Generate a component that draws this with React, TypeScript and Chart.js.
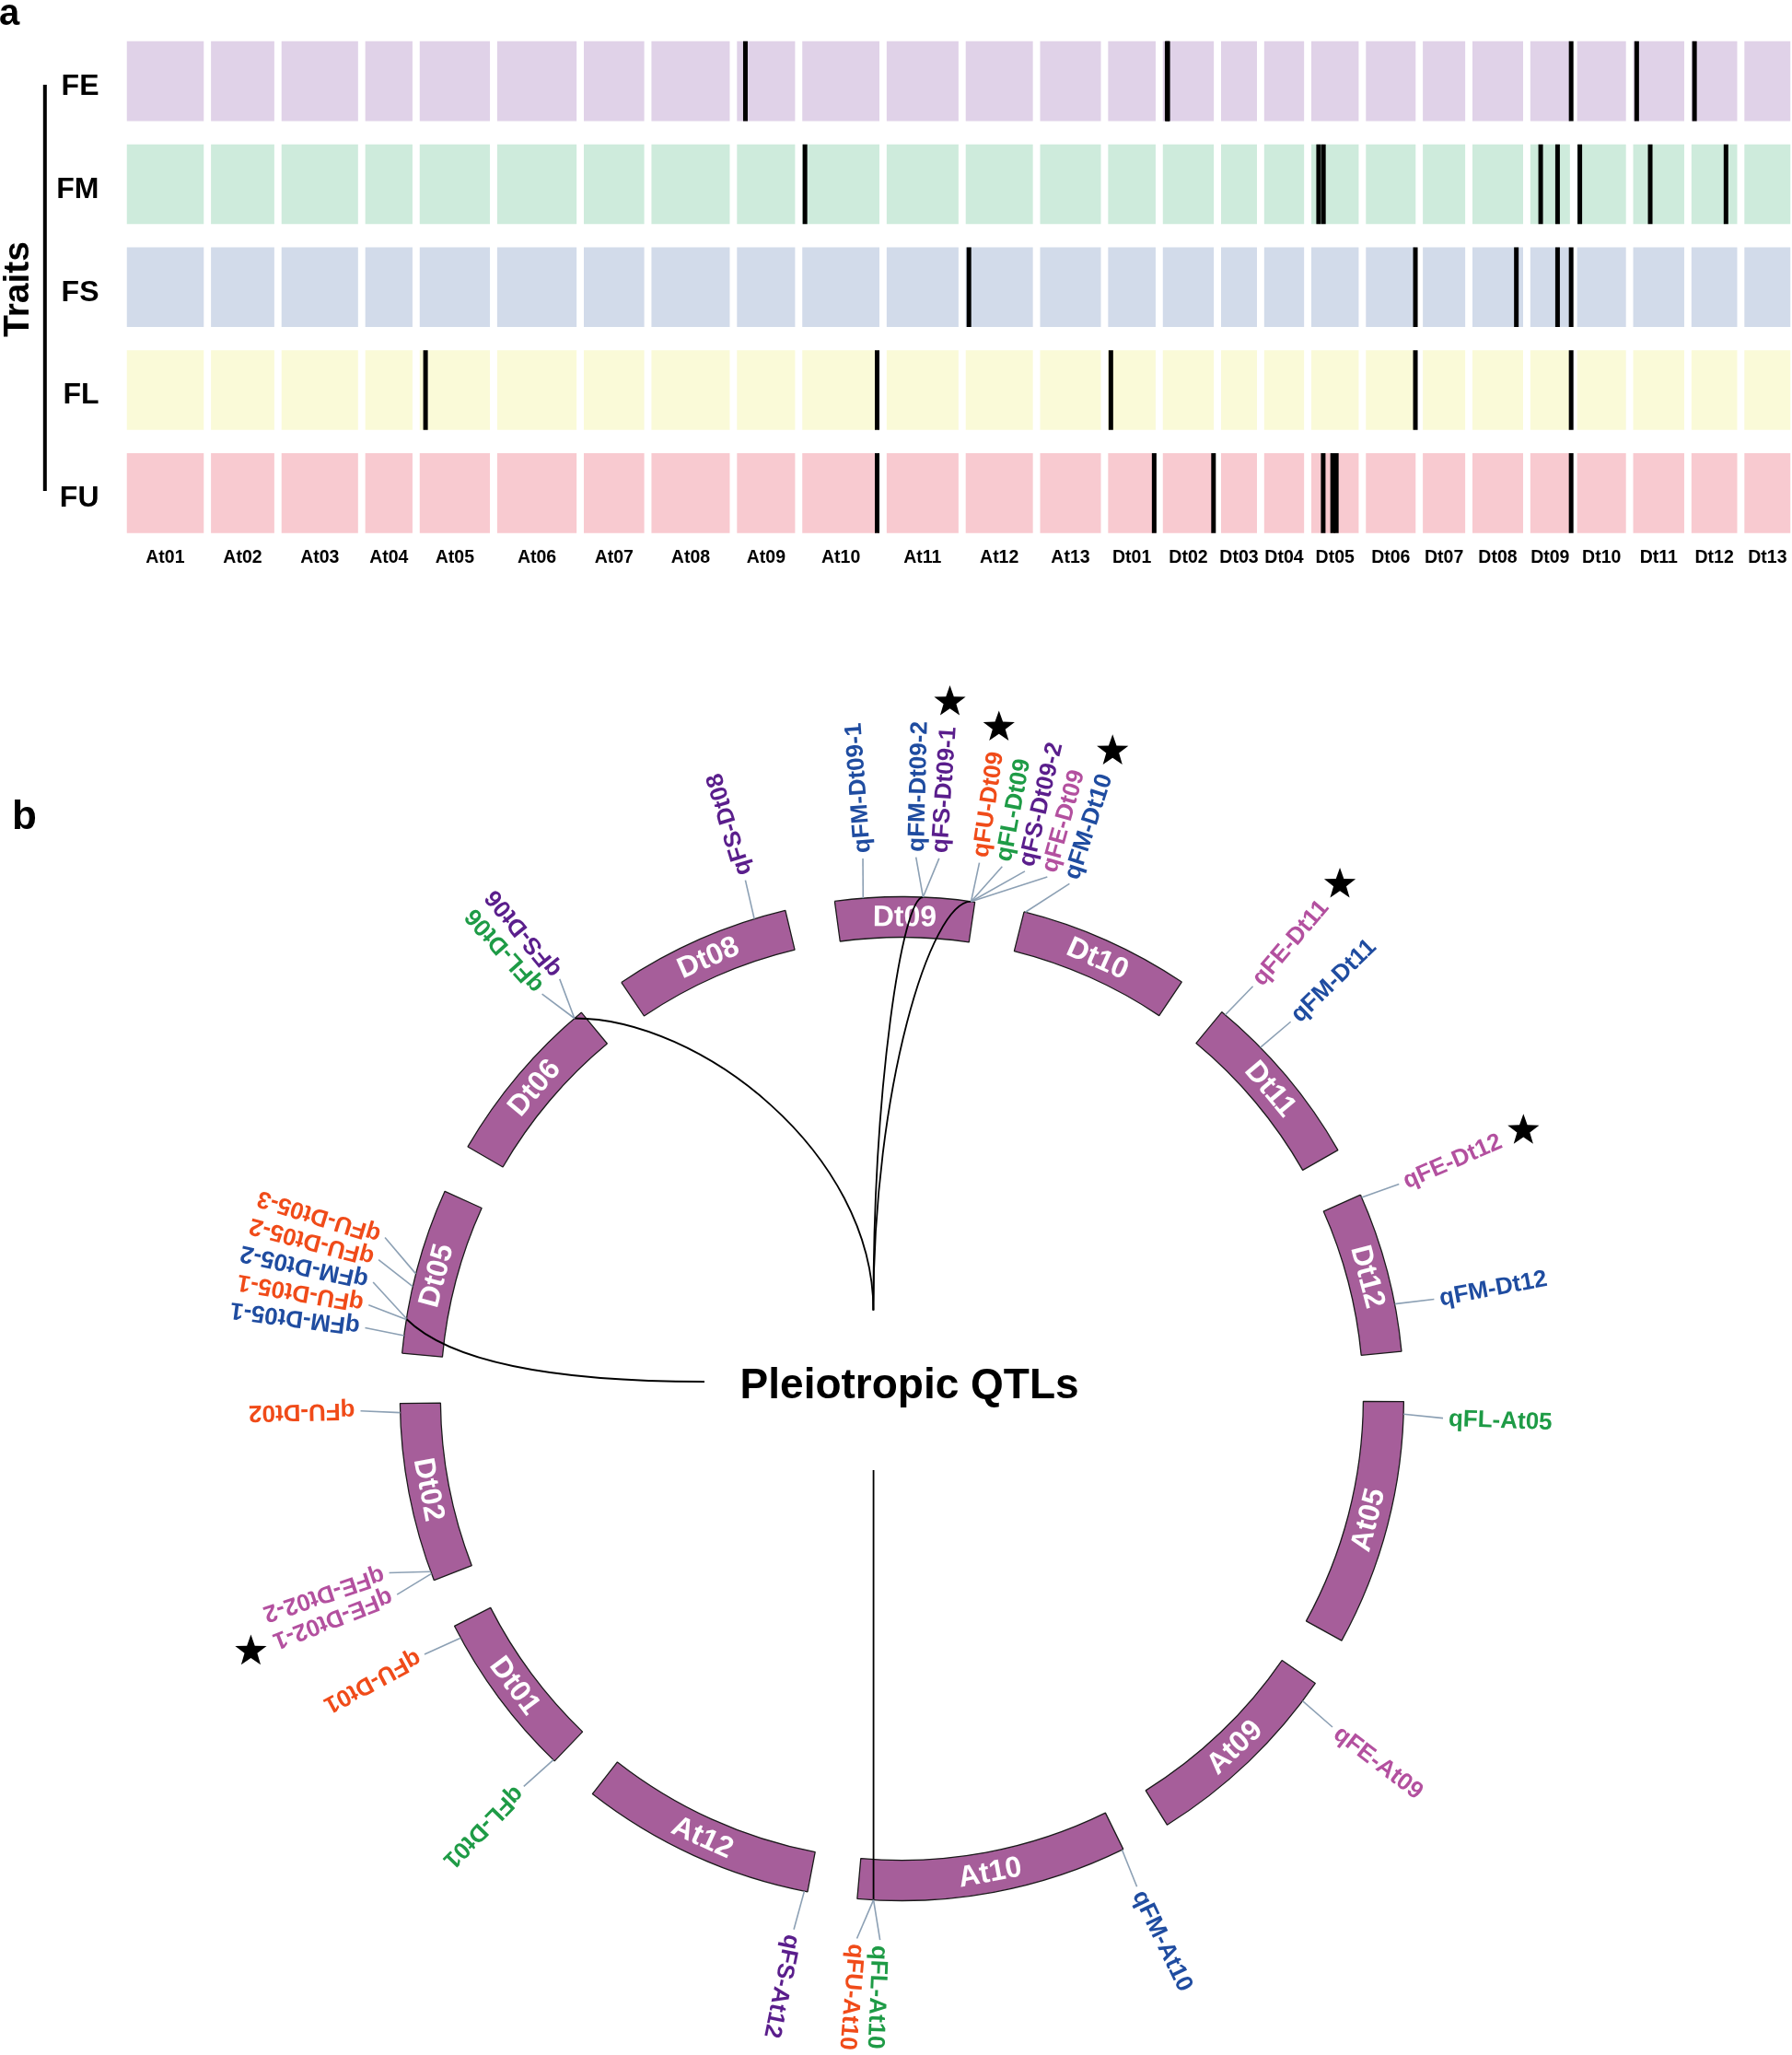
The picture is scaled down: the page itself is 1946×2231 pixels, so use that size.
import React, { useEffect, useRef } from 'react';
import { Chart, registerables } from 'chart.js';

Chart.register(...registerables);

const FONT = "'Liberation Sans', Arial, Helvetica, sans-serif";

// ---------------- data ----------------
const CHROMS = ['At01','At02','At03','At04','At05','At06','At07','At08','At09','At10','At11','At12','At13','Dt01','Dt02','Dt03','Dt04','Dt05','Dt06','Dt07','Dt08','Dt09','Dt10','Dt11','Dt12','Dt13'];
// chromosome length (Mb)
const CHROM_LEN = [100.5, 82.5, 99.7, 61.5, 91.5, 103.5, 78.7, 102.0, 75.7, 100.5, 93.6, 87.5, 79.2, 61.9, 66.4, 46.8, 52.0, 61.7, 64.8, 55.2, 66.0, 51.6, 63.6, 66.5, 59.6, 60.2];
const TRAITS = ['FE', 'FM', 'FS', 'FL', 'FU'];

const QTL_NAME = ['qFM-Dt09-1','qFM-Dt09-2','qFS-Dt09-1','qFU-Dt09','qFL-Dt09','qFS-Dt09-2','qFE-Dt09','qFM-Dt10','qFE-Dt11','qFM-Dt11','qFE-Dt12','qFM-Dt12','qFL-At05','qFE-At09','qFM-At10','qFL-At10','qFU-At10','qFS-At12','qFL-Dt01','qFU-Dt01','qFE-Dt02-1','qFE-Dt02-2','qFU-Dt02','qFM-Dt05-1','qFU-Dt05-1','qFM-Dt05-2','qFU-Dt05-2','qFU-Dt05-3','qFL-Dt06','qFS-Dt06','qFS-Dt08'];
const QTL_TRAIT = ['FM','FM','FS','FU','FL','FS','FE','FM','FE','FM','FE','FM','FL','FE','FM','FL','FU','FS','FL','FU','FE','FE','FU','FM','FU','FM','FU','FU','FL','FS','FS'];
const QTL_CHROM = ['Dt09','Dt09','Dt09','Dt09','Dt09','Dt09','Dt09','Dt10','Dt11','Dt11','Dt12','Dt12','At05','At09','At10','At10','At10','At12','Dt01','Dt01','Dt02','Dt02','Dt02','Dt05','Dt05','Dt05','Dt05','Dt05','Dt06','Dt06','Dt08'];
// QTL position on chromosome (Mb)
const QTL_POS = [10.5, 32.5, 32.5, 50.2, 50.2, 50.2, 50.2, 0.5, 1.6, 19.2, 1.0, 42.0, 4.6, 8.0, 0.5, 94.5, 94.5, 1.2, 0.6, 57.0, 2.6, 3.4, 63.0, 6.5, 12.5, 12.8, 24.8, 29.6, 61.5, 61.5, 54.2];
const QTL_STAR = [false, false, true, true, false, false, false, true, true, false, true, false, false, false, false, false, false, false, false, false, true, false, false, false, false, false, false, false, false, false, false];

const CIRCOS_CHROMS = ['Dt09','Dt10','Dt11','Dt12','At05','At09','At10','At12','Dt01','Dt02','Dt05','Dt06','Dt08'];

// ---------------- styles / layout ----------------
const TRAIT_FILL = ['#E0D2E8', '#CEEBDC', '#D2DBEA', '#FAFAD8', '#F8CAD0'];
const TRAIT_TEXT = ['#B3509F', '#1F4CA0', '#5A1E8C', '#1E9B46', '#F04B19'];
const ARC_COLOR = '#A65E9A';
const GAP_A = 9.4;   // gap between chromosomes in panel a (Mb units)
const LINE_W = 6.0;  // width of a QTL mark (Mb units)
const GAP_B = 18.4;  // gap between circos segments (Mb units)
const D2R = Math.PI / 180;

const startsA: number[] = [];
let accA = 0;
CHROM_LEN.forEach((l, i) => {
  startsA.push(accA);
  accA += l + (i < CHROM_LEN.length - 1 ? GAP_A : 0);
});
const TOTAL_A = accA;
const CENTERS_A = startsA.map((s, i) => s + CHROM_LEN[i] / 2);

const panelAPlugin = {
  id: 'panelADecor',
  afterDraw(chart: any) {
    const ctx = chart.ctx as CanvasRenderingContext2D;
    ctx.save();
    ctx.fillStyle = '#000';
    ctx.font = `bold 40px ${FONT}`;
    ctx.textBaseline = 'alphabetic';
    ctx.textAlign = 'left';
    ctx.fillText('a', -1, 27);
    ctx.fillRect(46.8, 92, 4, 441);
    ctx.translate(31, 314);
    ctx.rotate(-Math.PI / 2);
    ctx.textAlign = 'center';
    ctx.font = `bold 39px ${FONT}`;
    ctx.fillText('Traits', 0, 0);
    ctx.restore();
  },
};

function drawStar(ctx: CanvasRenderingContext2D, x: number, y: number, R: number, r: number) {
  ctx.beginPath();
  for (let i = 0; i < 10; i++) {
    const rad = i % 2 === 0 ? R : r;
    const a = -Math.PI / 2 + (i * Math.PI) / 5;
    const px = x + rad * Math.cos(a);
    const py = y + rad * Math.sin(a);
    if (i === 0) ctx.moveTo(px, py); else ctx.lineTo(px, py);
  }
  ctx.closePath();
  ctx.fill();
}

const circosPlugin = {
  id: 'circosDecor',
  afterDatasetsDraw(chart: any) {
    const ctx = chart.ctx as CanvasRenderingContext2D;
    const arcs = chart.getDatasetMeta(0).data as any[];
    const cx = arcs[0].x;
    const cy = arcs[0].y;
    const rOut = arcs[0].outerRadius;
    const rIn = arcs[0].innerRadius;
    const chromArc = (c: string) => arcs[2 * CIRCOS_CHROMS.indexOf(c)];
    const posAngle = (c: string, p: number) => {
      const el = chromArc(c);
      const len = CHROM_LEN[CHROMS.indexOf(c)];
      return el.startAngle + (p / len) * (el.endAngle - el.startAngle);
    };
    const pt = (r: number, a: number) => [cx + r * Math.cos(a), cy + r * Math.sin(a)];
    const clockDeg = (a: number) => {
      let th = a / D2R + 90;
      th = ((th % 360) + 360) % 360;
      return th;
    };

    ctx.save();

    // chromosome names on the arcs
    CIRCOS_CHROMS.forEach((c) => {
      const el = chromArc(c);
      const a = (el.startAngle + el.endAngle) / 2;
      const th = clockDeg(a);
      let rot = th;
      if (th > 90 && th < 270) rot = th - 180;
      else if (th >= 270) rot = th - 360;
      const [x, y] = pt((rOut + rIn) / 2, a);
      ctx.save();
      ctx.translate(x, y);
      ctx.rotate(rot * D2R);
      ctx.fillStyle = '#fff';
      ctx.font = `bold 32px ${FONT}`;
      ctx.textAlign = 'center';
      ctx.textBaseline = 'middle';
      ctx.fillText(c, 0, 1);
      ctx.restore();
    });

    // pleiotropic links (same locus shared by several traits)
    const links: { c: string; pos: number }[] = [];
    CIRCOS_CHROMS.forEach((c) => {
      const idx = QTL_NAME.map((_, k) => k).filter((k) => QTL_CHROM[k] === c).sort((a, b) => QTL_POS[a] - QTL_POS[b]);
      let grp: number[] = [];
      const flush = () => {
        const traits = new Set(grp.map((k) => QTL_TRAIT[k]));
        if (grp.length > 1 && traits.size > 1) {
          links.push({ c, pos: grp.reduce((s, k) => s + QTL_POS[k], 0) / grp.length });
        }
      };
      idx.forEach((k) => {
        if (grp.length && QTL_POS[k] - QTL_POS[grp[grp.length - 1]] > 1) { flush(); grp = []; }
        grp.push(k);
      });
      if (grp.length) flush();
    });
    ctx.strokeStyle = '#000';
    ctx.lineWidth = 1.8;
    links.forEach((l) => {
      const a = posAngle(l.c, l.pos);
      const th = clockDeg(a);
      const [sx, sy] = pt(rOut, a);
      ctx.beginPath();
      ctx.moveTo(sx, sy);
      if (th >= 150 && th <= 210) {
        ctx.lineTo(sx, cy + 77.5);
      } else if (th >= 240 && th <= 300) {
        const ex = cx - 214.4, ey = cy - 18.5;
        const dx = ex - sx, dy = ey - sy;
        ctx.bezierCurveTo(sx + 0.15 * dx, sy + 0.7 * dy, ex - 0.5 * dx, ey, ex, ey);
      } else {
        const ex = cx - 31, ey = cy - 96;
        const dx = ex - sx, dy = ey - sy;
        ctx.bezierCurveTo(sx + 0.42 * dx, sy, ex, ey - 0.54 * dy, ex, ey);
      }
      ctx.stroke();
    });

    // QTL labels around the circle
    const items = QTL_NAME.map((_, k) => ({ k, ang: 0, lab: 0 })).filter((it) => CIRCOS_CHROMS.includes(QTL_CHROM[it.k]));
    items.forEach((it) => {
      let th = clockDeg(posAngle(QTL_CHROM[it.k], QTL_POS[it.k]));
      if (th >= 300) th -= 360;
      it.ang = th;
    });
    const sorted = [...items].sort((a, b) => a.ang - b.ang);
    const SEP = 2.45;
    const groups: (typeof items)[] = [];
    sorted.forEach((it) => {
      const g = groups[groups.length - 1];
      if (g && it.ang < g[g.length - 1].lab + SEP) {
        it.lab = g[g.length - 1].lab + SEP;
        g.push(it);
      } else {
        it.lab = it.ang;
        groups.push([it]);
      }
    });
    groups.forEach((g) => {
      if (g.length > 1 && g[g.length - 1].ang - g[0].ang < 0.6) {
        const mean = g.reduce((s, it) => s + it.ang, 0) / g.length;
        g.forEach((it, i) => { it.lab = mean + (i - (g.length - 1) / 2) * SEP; });
      }
    });

    const R_CONN = rOut + 43;
    const R_LAB = rOut + 49;
    ctx.font = `bold 26px ${FONT}`;
    sorted.forEach((it) => {
      const a = posAngle(QTL_CHROM[it.k], QTL_POS[it.k]);
      const la = (it.lab + 0.3 - 90) * D2R;
      const [x0, y0] = pt(rOut, a);
      const [x1, y1] = pt(R_CONN, la);
      ctx.strokeStyle = '#8CA0B4';
      ctx.lineWidth = 1.6;
      ctx.beginPath();
      ctx.moveTo(x0, y0);
      ctx.lineTo(x1, y1);
      ctx.stroke();
      const [tx, ty] = pt(R_LAB, la);
      ctx.save();
      ctx.translate(tx, ty);
      ctx.rotate(la);
      ctx.fillStyle = TRAIT_TEXT[TRAITS.indexOf(QTL_TRAIT[it.k])];
      ctx.textAlign = 'left';
      ctx.textBaseline = 'middle';
      ctx.fillText(QTL_NAME[it.k], 0, 1);
      ctx.restore();
      if (QTL_STAR[it.k]) {
        const w = ctx.measureText(QTL_NAME[it.k]).width;
        const [sx, sy] = pt(R_LAB + w + 27, la);
        ctx.fillStyle = '#000';
        drawStar(ctx, sx, sy, 18, 7.3);
      }
    });

    // center title
    ctx.fillStyle = '#000';
    ctx.font = `bold 46px ${FONT}`;
    ctx.textAlign = 'left';
    ctx.textBaseline = 'alphabetic';
    ctx.fillText('Pleiotropic QTLs', cx - 175.8, cy - 0.2);

    // panel letter
    ctx.font = `bold 44px ${FONT}`;
    ctx.fillText('b', 13, 260);
    ctx.restore();
  },
};

export default function App() {
  const refA = useRef<HTMLCanvasElement>(null);
  const refB = useRef<HTMLCanvasElement>(null);

  useEffect(() => {
    const chromSets = CHROMS.map((c, i) => ({
      label: c,
      data: TRAITS.map(() => [startsA[i], startsA[i] + CHROM_LEN[i]]),
      backgroundColor: TRAIT_FILL,
      borderWidth: 0,
      grouped: false,
      barPercentage: 0.7755,
      categoryPercentage: 1,
      order: 1,
    }));
    const qtlSets = QTL_NAME.map((n, k) => {
      const s = startsA[CHROMS.indexOf(QTL_CHROM[k])] + QTL_POS[k];
      return {
        label: n,
        data: TRAITS.map((t) => (t === QTL_TRAIT[k] ? [s, s + LINE_W] : null)),
        backgroundColor: '#000',
        borderWidth: 0,
        grouped: false,
        barPercentage: 0.7755,
        categoryPercentage: 1,
        order: 0,
      };
    });

    const chartA = new Chart(refA.current as HTMLCanvasElement, {
      type: 'bar',
      data: { labels: TRAITS, datasets: [...chromSets, ...qtlSets] as any },
      options: {
        indexAxis: 'y',
        responsive: false,
        animation: false,
        layout: { padding: { left: 0, right: 1.5, top: 32.3, bottom: 0 } },
        plugins: { legend: { display: false }, tooltip: { enabled: false } },
        scales: {
          x: {
            type: 'linear',
            min: 0,
            max: TOTAL_A,
            position: 'bottom',
            grid: { display: false, drawTicks: false },
            border: { display: false },
            afterBuildTicks: (s: any) => { s.ticks = CENTERS_A.map((v) => ({ value: v })); },
            afterFit: (s: any) => { s.height = 48.8; s.paddingLeft = 0; s.paddingRight = 0; },
            ticks: {
              autoSkip: false,
              maxRotation: 0,
              minRotation: 0,
              padding: 2.5,
              color: '#000',
              font: { family: FONT, size: 19.5, weight: 'bold' },
              callback: (_v: any, i: number) => CHROMS[i],
            },
          },
          y: {
            type: 'category',
            grid: { display: false, drawTicks: false },
            border: { display: false },
            afterFit: (s: any) => { s.width = 137.5; s.paddingTop = 0; s.paddingBottom = 0; },
            ticks: { padding: 30, labelOffset: 6, color: '#000', font: { family: FONT, size: 32, weight: 'bold' } },
          },
        },
      } as any,
      plugins: [panelAPlugin],
    });

    const values: number[] = [];
    const colors: string[] = [];
    const borders: string[] = [];
    const bws: number[] = [];
    const labels: string[] = [];
    CIRCOS_CHROMS.forEach((c) => {
      values.push(CHROM_LEN[CHROMS.indexOf(c)]);
      colors.push(ARC_COLOR);
      borders.push('#1a1a1a');
      bws.push(1.3);
      labels.push(c);
      values.push(GAP_B);
      colors.push('rgba(0,0,0,0)');
      borders.push('rgba(0,0,0,0)');
      bws.push(0);
      labels.push('');
    });

    const chartB = new Chart(refB.current as HTMLCanvasElement, {
      type: 'doughnut',
      data: {
        labels,
        datasets: [{ data: values, backgroundColor: colors, borderColor: borders, borderWidth: bws, hoverOffset: 0 }],
      },
      options: {
        responsive: false,
        animation: false,
        rotation: -7.7,
        circumference: 360,
        cutout: '91.93%',
        radius: 545,
        layout: { padding: { left: 12.8, right: 0, top: 166, bottom: 0 } },
        plugins: { legend: { display: false }, tooltip: { enabled: false } },
      } as any,
      plugins: [circosPlugin],
    });

    return () => {
      chartA.destroy();
      chartB.destroy();
    };
  }, []);

  return (
    <div style={{ position: 'absolute', left: 0, top: 0, width: 1946, height: 2231, background: '#fff', overflow: 'hidden' }}>
      <canvas ref={refA} width={1946} height={640} style={{ position: 'absolute', left: 0, top: 0 }} />
      <canvas ref={refB} width={1946} height={1591} style={{ position: 'absolute', left: 0, top: 640 }} />
    </div>
  );
}
